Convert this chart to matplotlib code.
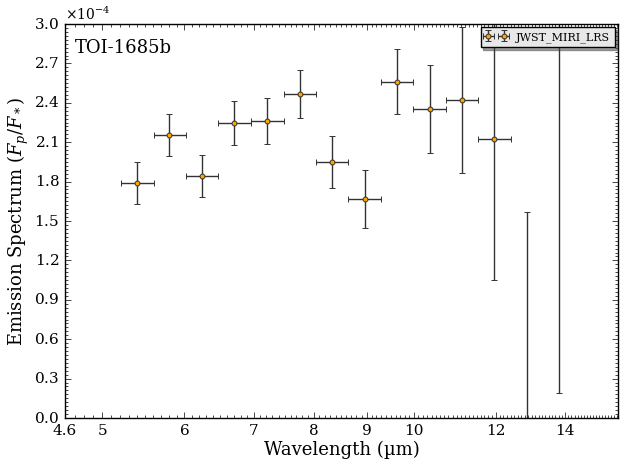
import matplotlib
matplotlib.use('Agg')
import matplotlib.pyplot as plt
from matplotlib.ticker import MultipleLocator, FixedLocator, FormatStrFormatter, ScalarFormatter, NullFormatter
import numpy as np

# spectral bins (micron)
wl = [5.404, 5.802, 6.243, 6.702, 7.211, 7.760, 8.331, 8.964, 9.624,
      10.355, 11.141, 11.961, 12.871, 13.817]
wl_lo = [5.216, 5.606, 6.019, 6.468, 6.952, 7.481, 8.040, 8.641, 9.287,
         9.982, 10.729, 11.531, 12.407, 13.336]
wl_hi = [5.606, 6.019, 6.468, 6.952, 7.481, 8.040, 8.641, 9.287, 9.982,
         10.729, 11.531, 12.407, 13.336, 14.317]

# Fp/F* in units of 1e-4
depth = [1.79, 2.155, 1.843, 2.247, 2.262, 2.468, 1.95, 1.668, 2.56,
         2.353, 2.42, 2.125, -0.5, 3.3]
depth_err = [0.16, 0.16, 0.16, 0.165, 0.175, 0.183, 0.198, 0.221, 0.248,
             0.335, 0.554, 1.074, 2.07, 3.11]

plt.style.use('classic')
plt.rcParams['font.family'] = 'serif'
plt.rcParams['mathtext.fontset'] = 'dejavuserif'

fig = plt.figure(figsize=(6.27, 4.67), dpi=100)
ax = fig.add_axes([0.1037, 0.1049, 0.8819, 0.8437])

x = np.array(wl)
xerr = [x - np.array(wl_lo), np.array(wl_hi) - x]
y = np.array(depth) * 1e-4
yerr = np.array(depth_err) * 1e-4

ax.errorbar(x, y, xerr=xerr, yerr=yerr, fmt='o', ms=3.5, mfc='orange',
            mec='#333333', mew=0.7, ecolor='#333333', elinewidth=1,
            capsize=2.5, capthick=1, label='JWST_MIRI_LRS')

ax.set_xscale('log')
ax.set_xlim(4.6, 15.75)
ax.set_ylim(0, 3.0e-4)

# x ticks
ax.xaxis.set_major_locator(FixedLocator([4.6, 5, 6, 7, 8, 9, 10, 12, 14]))
ax.xaxis.set_major_formatter(FormatStrFormatter('%g'))
ax.xaxis.set_minor_locator(MultipleLocator(0.1))
ax.xaxis.set_minor_formatter(NullFormatter())

# y ticks
ax.yaxis.set_major_locator(MultipleLocator(0.3e-4))
ax.yaxis.set_minor_locator(MultipleLocator(0.03e-4))
yfmt = ScalarFormatter(useMathText=True)
yfmt.set_powerlimits((-3, 3))
ax.yaxis.set_major_formatter(yfmt)

ax.tick_params(labelsize=11)
ax.yaxis.get_offset_text().set_fontsize(10)

ax.set_xlabel('Wavelength (µm)', fontsize=13, labelpad=2)
ax.set_ylabel(r'Emission Spectrum $(F_p/F_*)$', fontsize=13, labelpad=2)

ax.text(0.018, 0.962, 'TOI-1685b', transform=ax.transAxes, fontsize=13,
        ha='left', va='top')

leg = ax.legend(loc='upper right', fontsize=8, numpoints=2, shadow=True,
                fancybox=False, borderaxespad=0.3)
leg.get_frame().set_facecolor('#e8e8e8')

fig.savefig('out.png', dpi=100)
